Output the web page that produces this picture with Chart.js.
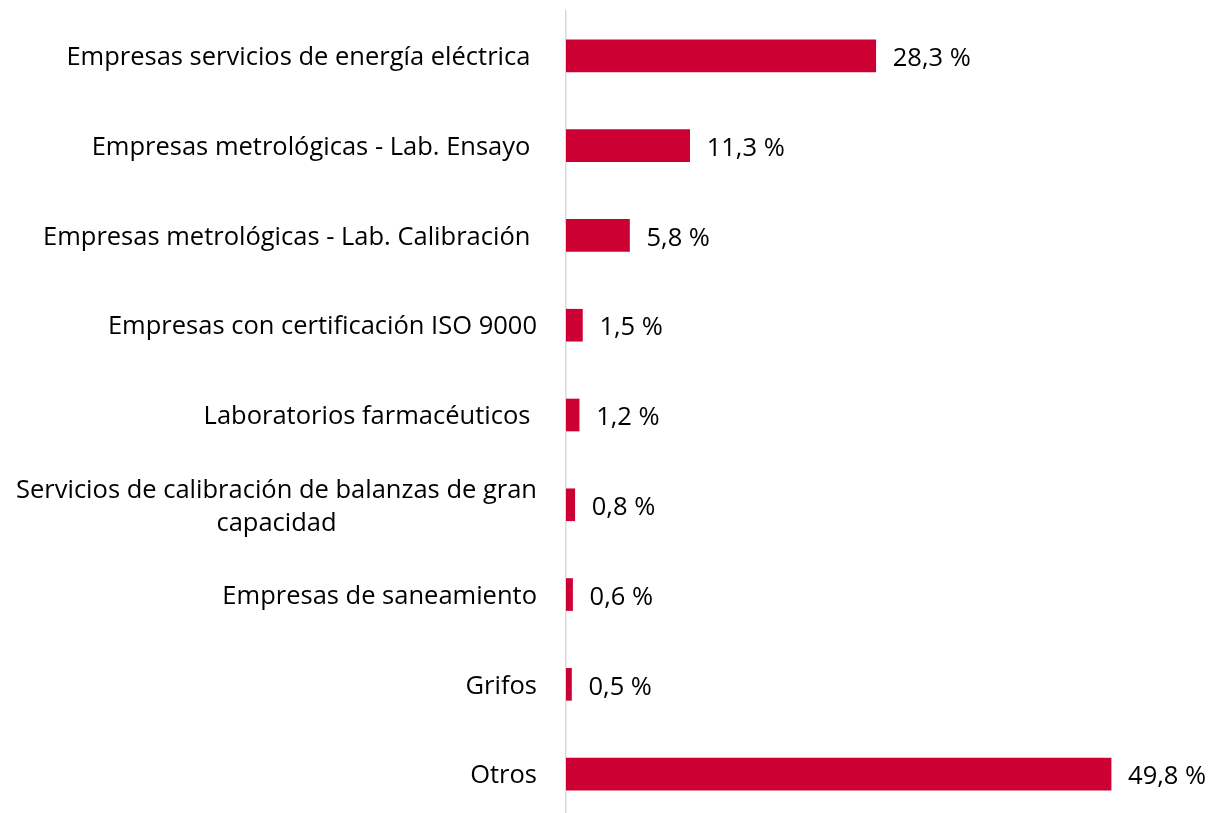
<!DOCTYPE html>
<html>
<head>
<meta charset="utf-8">
<script src="https://cdn.jsdelivr.net/npm/chart.js@4"></script>
<style>
html,body{margin:0;padding:0;background:#fff;overflow:hidden;}
#wrap{width:1212px;height:830px;position:relative;}
</style>
</head>
<body>
<div id="wrap"><canvas id="c" width="1212" height="830"></canvas></div>
<script>
const categories = [
  ["Empresas servicios de energía eléctrica "],
  ["Empresas metrológicas - Lab. Ensayo "],
  ["Empresas metrológicas - Lab. Calibración "],
  ["Empresas con certificación ISO 9000"],
  ["Laboratorios farmacéuticos "],
  ["Servicios de calibración de balanzas de gran", "capacidad"],
  ["Empresas de saneamiento"],
  ["Grifos"],
  ["Otros"]
];
const values = [28.3, 11.3, 5.8, 1.5, 1.2, 0.8, 0.6, 0.5, 49.8];
const valueLabels = ["28,3 %", "11,3 %", "5,8 %", "1,5 %", "1,2 %", "0,8 %", "0,6 %", "0,5 %", "49,8 %"];

const FONT = '25.5px "Open Sans", sans-serif';

const labelPlugin = {
  id: 'customLabels',
  afterDatasetsDraw(chart) {
    const ctx = chart.ctx;
    const y = chart.scales.y;
    const area = chart.chartArea;
    ctx.save();
    ctx.font = FONT;
    ctx.fillStyle = '#000';
    ctx.textBaseline = 'middle';
    const rightEdge = area.left - 29;
    const lineH = 33;
    const dy = 2;
    categories.forEach((lines, i) => {
      const cy = y.getPixelForTick(i) + dy;
      const widths = lines.map(l => ctx.measureText(l).width);
      const maxW = Math.max(...widths);
      const center = rightEdge - maxW / 2;
      lines.forEach((l, k) => {
        const ly = cy + (k - (lines.length - 1) / 2) * lineH;
        if (lines.length > 1) {
          ctx.textAlign = 'center';
          ctx.fillText(l, center, ly);
        } else {
          ctx.textAlign = 'right';
          ctx.fillText(l, rightEdge, ly);
        }
      });
    });
    const meta = chart.getDatasetMeta(0);
    ctx.textAlign = 'left';
    meta.data.forEach((bar, i) => {
      ctx.fillText(valueLabels[i], bar.x + 17, bar.y + dy + 1);
    });
    ctx.restore();
  }
};

new Chart(document.getElementById('c'), {
  type: 'bar',
  data: {
    labels: categories,
    datasets: [{
      data: values,
      backgroundColor: '#CC0033',
      borderWidth: 0,
      barThickness: 32
    }]
  },
  options: {
    indexAxis: 'y',
    responsive: false,
    animation: false,
    layout: { padding: { left: 566, right: 44, top: 11, bottom: 11 } },
    plugins: { legend: { display: false }, tooltip: { enabled: false } },
    scales: {
      x: { display: false, min: 0, max: 55 },
      y: {
        grid: { display: false },
        border: { display: true, color: '#d9d9d9', width: 1.5 },
        ticks: { display: false },
        afterFit(s) { s.width = 0; }
      }
    }
  },
  plugins: [labelPlugin]
});
</script>
</body>
</html>
